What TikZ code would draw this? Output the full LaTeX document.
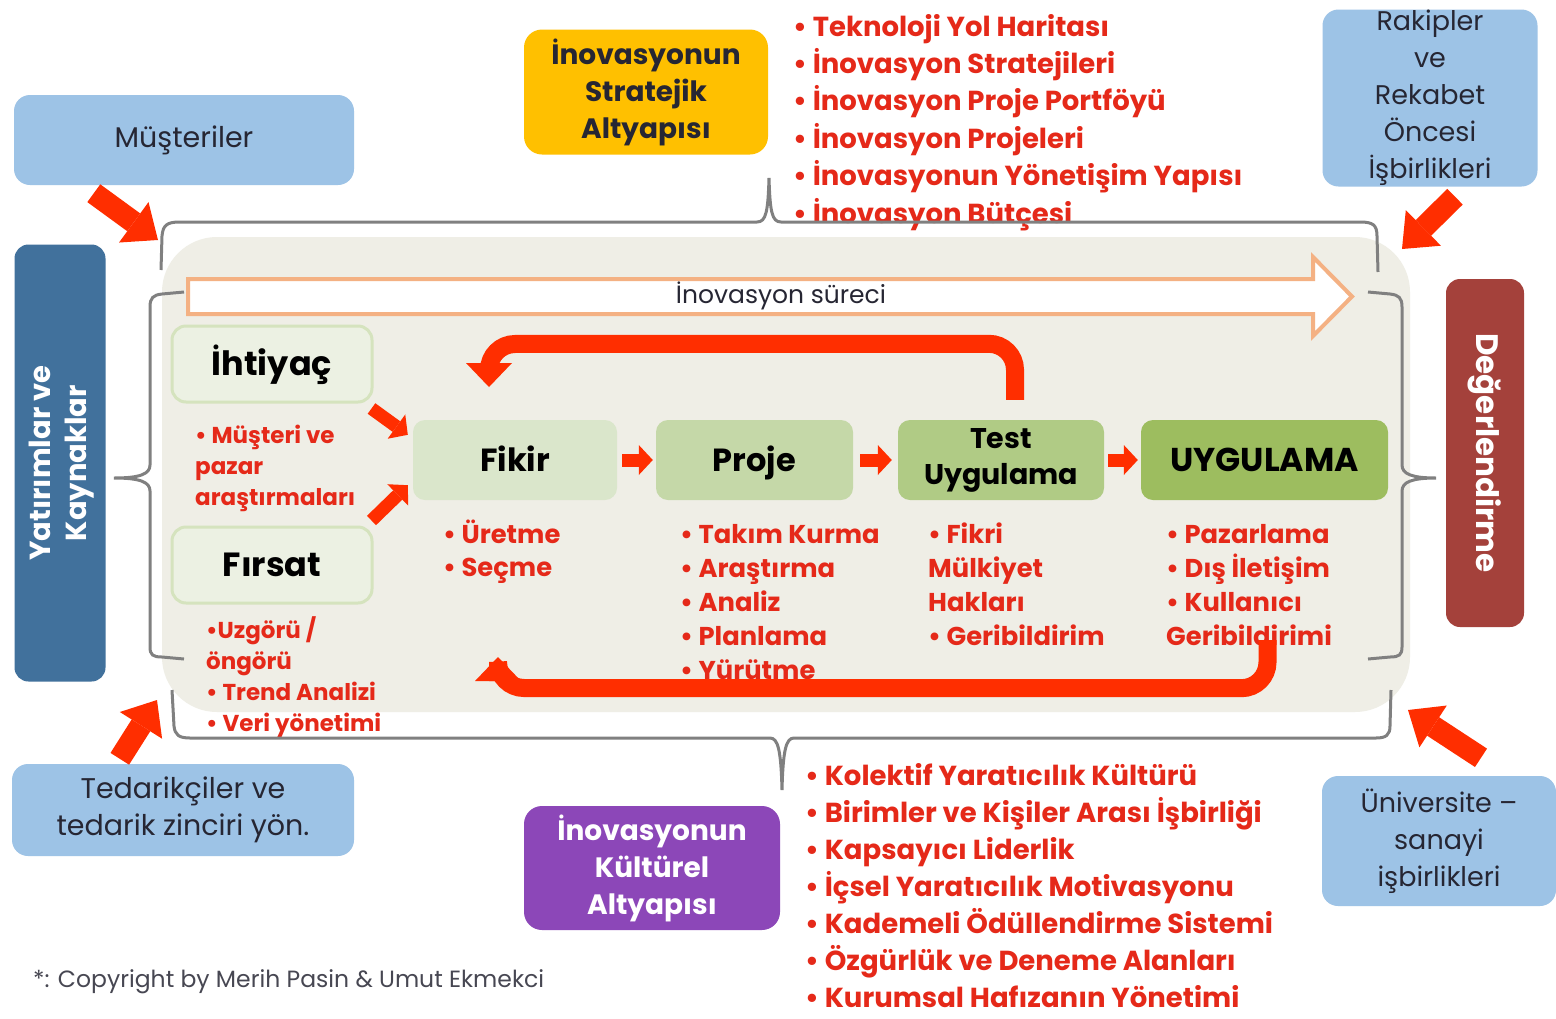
\documentclass[tikz,border=0pt]{standalone}
\usepackage{fontspec}
\setmainfont{Poppins}
\usetikzlibrary{arrows.meta,calc}

\begin{document}
\begin{tikzpicture}[x=1pt,y=-1pt,
  bluebox/.style={rectangle,rounded corners=16pt,fill=skyblue,text=ink,align=center,inner sep=0pt,
    font=\fontsize{28.5}{37.5}\selectfont},
  sidebar/.style={rectangle,rounded corners=14pt,text=white,align=center,inner sep=0pt,
    font=\bfseries\fontsize{29}{36}\selectfont},
  pillar/.style={rectangle,rounded corners=18pt,align=center,inner sep=0pt,
    font=\bfseries\fontsize{28}{37}\selectfont},
  oneline/.style={text height=23pt,text depth=0pt},
  needbox/.style={rectangle,rounded corners=14pt,fill=needfill,draw=needline,line width=3pt,oneline,
    minimum width=200pt,minimum height=76pt,inner sep=0pt,font=\bfseries\fontsize{33.5}{36}\selectfont},
  stagebox/.style={rectangle,rounded corners=12pt,minimum height=80pt,inner sep=0pt,align=center,
    font=\bfseries\fontsize{32}{36}\selectfont},
  itembig/.style={anchor=west,inner sep=0pt,text=listred,text height=20pt,text depth=6pt,
    font=\bfseries\fontsize{27.5}{30}\selectfont},
  itemmid/.style={itembig,font=\bfseries\fontsize{25.8}{28}\selectfont},
  itemsmall/.style={itembig,font=\bfseries\fontsize{23}{24}\selectfont},
  bracket/.style={draw=bracegrey,line width=3pt},
  loopline/.style={draw=arrowred,line width=18pt,rounded corners=26pt,
    -{Triangle[length=24pt,width=46pt,line width=0pt]}},
  chevron/.style={draw=arrowred,line width=13pt,-{Triangle[length=14pt,width=30pt,line width=0pt]}},
  blockarrow/.style={draw=arrowred,line width=22pt,-{Triangle[length=30pt,width=50pt,line width=0pt]}}]
\definecolor{skyblue}{rgb}{0.616, 0.765, 0.902}
\definecolor{ink}{rgb}{0.150, 0.150, 0.200}
\definecolor{navyside}{rgb}{0.255, 0.443, 0.612}
\definecolor{wine}{rgb}{0.643, 0.255, 0.231}
\definecolor{amber}{rgb}{1.000, 0.753, 0.000}
\definecolor{violet}{rgb}{0.550, 0.280, 0.720}
\definecolor{panel}{rgb}{0.937, 0.933, 0.902}
\definecolor{needfill}{rgb}{0.925, 0.945, 0.890}
\definecolor{needline}{rgb}{0.835, 0.890, 0.745}
\definecolor{fikirfill}{rgb}{0.855, 0.902, 0.796}
\definecolor{projefill}{rgb}{0.773, 0.847, 0.659}
\definecolor{testfill}{rgb}{0.690, 0.796, 0.522}
\definecolor{uygfill}{rgb}{0.616, 0.741, 0.373}
\definecolor{orangeline}{rgb}{0.957, 0.694, 0.514}
\definecolor{bracegrey}{rgb}{0.500, 0.500, 0.500}
\definecolor{arrowred}{rgb}{1.000, 0.180, 0.000}
\definecolor{listred}{rgb}{0.900, 0.160, 0.100}
\useasboundingbox[fill=white] (0,0) rectangle (1556,1018);

% background panel
\fill[panel,rounded corners=55pt] (162,237) rectangle (1410,712);

% process arrow
\draw[orangeline,line width=4pt,fill=white,line join=miter]
  (188,279) -- (1313,279) -- (1313,257) -- (1352,296.5) -- (1313,336) -- (1313,314) -- (188,314) -- cycle;
\node[inner sep=0pt,text=ink,font=\fontsize{25}{26}\selectfont] (surec) at (781,296) {İnovasyon süreci};

% outer boxes
\node[bluebox,minimum width=340pt,minimum height=90pt] (musteri) at (184,140) {Müşteriler};
\node[bluebox,minimum width=342pt,minimum height=92pt] (tedarik) at (183,810) {Tedarikçiler ve\\tedarik zinciri yön.};
\node[bluebox,minimum width=215pt,minimum height=177pt,font=\fontsize{27}{37}\selectfont] (rakip) at (1430,98) {Rakipler\\ve\\Rekabet\\Öncesi\\İşbirlikleri};
\node[bluebox,minimum width=234pt,minimum height=130pt,font=\fontsize{27}{37}\selectfont] (univ) at (1439,841) {Üniversite –\\sanayi\\işbirlikleri};
\node[sidebar,fill=navyside,minimum width=91pt,minimum height=437pt] (yatirim) at (60,463) {};
\node[sidebar,rotate=90] (yatirimtxt) at (62,463) {Yatırımlar ve\\Kaynaklar};
\node[sidebar,fill=wine,minimum width=78pt,minimum height=348pt] (deger) at (1485,453) {};
\node[sidebar,rotate=-90,font=\bfseries\fontsize{31}{36}\selectfont] (degertxt) at (deger.center) {Değerlendirme};
\node[pillar,fill=amber,text=ink,minimum width=244pt,minimum height=125pt] (strateji) at (646,92) {İnovasyonun\\Stratejik\\Altyapısı};
\node[pillar,fill=violet,text=white,minimum width=256pt,minimum height=124pt] (kultur) at (652,868) {İnovasyonun\\Kültürel\\Altyapısı};

% stages
\node[needbox] (ihtiyac) at (272,364) {İhtiyaç};
\node[needbox] (firsat) at (272,565) {Fırsat};
\node[stagebox,oneline,fill=fikirfill,minimum width=204pt] (fikir) at (515,460) {Fikir};
\node[stagebox,oneline,fill=projefill,minimum width=197pt] (proje) at (754.5,460) {Proje};
\node[stagebox,fill=testfill,minimum width=206pt,font=\bfseries\fontsize{28.5}{36}\selectfont] (test) at (1001,460) {Test\\Uygulama};
\node[stagebox,oneline,fill=uygfill,minimum width=247pt,font=\bfseries\fontsize{33}{36}\selectfont] (uyg) at (1264.5,460) {UYGULAMA};

% lists
\foreach \txt [count=\i] in {Teknoloji Yol Haritası,İnovasyon Stratejileri,İnovasyon Proje Portföyü,
  İnovasyon Projeleri,İnovasyonun Yönetişim Yapısı,İnovasyon Bütçesi}
  \node[itembig] (ust\i) at (793,{29+37.4*(\i-1)}) {• \txt};
\foreach \txt [count=\i] in {Kolektif Yaratıcılık Kültürü,Birimler ve Kişiler Arası İşbirliği,
  Kapsayıcı Liderlik,İçsel Yaratıcılık Motivasyonu,Kademeli Ödüllendirme Sistemi,
  Özgürlük ve Deneme Alanları,Kurumsal Hafızanın Yönetimi}
  \node[itembig] (alt\i) at (805,{778+37.1*(\i-1)}) {• \txt};
\foreach \txt [count=\i] in {• Müşteri ve,pazar,araştırmaları}
  \node[itemsmall] (ih\i) at (195,{436+31*(\i-1)}) {\txt};
\foreach \txt [count=\i] in {•Uzgörü /,öngörü,• Trend Analizi,• Veri yönetimi}
  \node[itemsmall] (fr\i) at (206,{631+31.3*(\i-1)}) {\txt};
\foreach \txt [count=\i] in {Üretme,Seçme}
  \node[itemmid] (fk\i) at (443,{536+33.5*(\i-1)}) {• \txt};
\foreach \txt [count=\i] in {Takım Kurma,Araştırma,Analiz,Planlama,Yürütme}
  \node[itemmid] (pr\i) at (680,{536+34.2*(\i-1)}) {• \txt};
\foreach \txt [count=\i] in {• Fikri,Mülkiyet,Hakları,• Geribildirim}
  \node[itemmid] (ts\i) at (928,{536+34.2*(\i-1)}) {\txt};
\foreach \txt [count=\i] in {• Pazarlama,• Dış İletişim,• Kullanıcı,Geribildirimi}
  \node[itemmid] (ug\i) at (1166,{536+34.2*(\i-1)}) {\txt};

\node[anchor=west,inner sep=0pt,text=ink!85,font=\fontsize{23.5}{24}\selectfont] (telif) at (33,982)
  {*: Copyright by Merih Pasin \& Umut Ekmekci};

% braces
\draw[bracket] (161,270) -- (162,236) .. controls (163,225) and (167,222) .. (180,222) -- (757,222)
  .. controls (766,222) and (768,212) .. (769,178) .. controls (770,212) and (772,222) .. (781,222)
  -- (1360,222) .. controls (1373,222) and (1377,225) .. (1377,236) -- (1378,272);
\draw[bracket] (172,690) -- (174,726) .. controls (175,735) and (179,738) .. (190,738) -- (770,738)
  .. controls (778,738) and (781,750) .. (782,790) .. controls (783,750) and (786,738) .. (794,738)
  -- (1376,738) .. controls (1386,738) and (1390,735) .. (1390,726) -- (1391,690);
\draw[bracket] (184,292) -- (162,294) .. controls (153,295) and (150,298) .. (150,307) -- (150,465)
  .. controls (150,474) and (140,478) .. (114,478) .. controls (140,478) and (150,482) .. (150,491)
  -- (150,647) .. controls (150,655) and (153,657) .. (162,657) -- (184,659);
\draw[bracket] (1368,292) -- (1390,294) .. controls (1399,295) and (1402,298) .. (1402,307) -- (1402,465)
  .. controls (1402,474) and (1412,478) .. (1436,478) .. controls (1412,478) and (1402,482) .. (1402,491)
  -- (1402,647) .. controls (1402,655) and (1399,657) .. (1390,657) -- (1368,659);

% arrows between stages
\draw[chevron] ($(ihtiyac.south east)+(-2,5)$) -- ($(fikir.north west)+(-5,15)$);
\draw[chevron] ($(firsat.north east)+(-2,-5)$) -- ($(fikir.south west)+(-5,-15)$);
\draw[chevron,shorten <=5pt,shorten >=3pt] (fikir) -- (proje);
\draw[chevron,shorten <=7pt,shorten >=6pt] (proje) -- (test);
\draw[chevron,shorten <=4pt,shorten >=3pt] (test) -- (uyg);

% feedback loops
\draw[loopline] ($(test.north)+(14,-20)$) -- ($(test.north)+(14,-76)$) -- (489,344) -- (489,387);
\draw[loopline] ($(uyg.south)+(3,140)$) -- ($(uyg.south)+(3,188)$) -- (498,688) -- (498,657);

% arrows from outside
\coordinate (musteritip) at (158,240);
\coordinate (rakiptip) at (1402,249);
\coordinate (tedariktip) at (157,700);
\coordinate (univtip) at (1408,710);
\draw[blockarrow] ($(musteri.south west)+(80,8)$) -- (musteritip);
\draw[blockarrow] ($(rakip.south)+(25,10)$) -- (rakiptip);
\draw[blockarrow] ($(tedarik.north west)+(108,-5)$) -- (tedariktip);
\draw[blockarrow] ($(univ.north)+(42,-18)$) -- (univtip);
\end{tikzpicture}
\end{document}
